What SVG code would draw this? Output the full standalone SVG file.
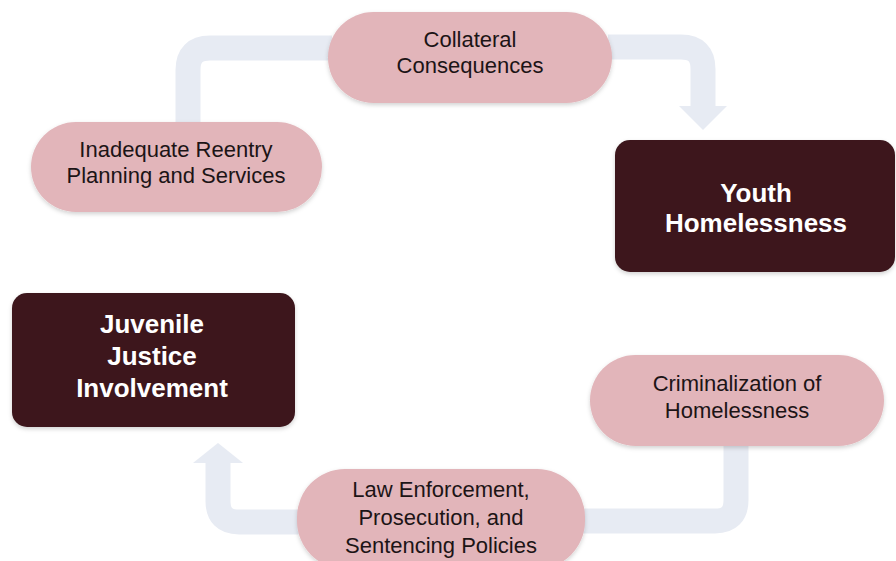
<svg xmlns="http://www.w3.org/2000/svg" width="896" height="561" viewBox="0 0 896 561">
<defs>
<style>
.flow{fill:none;stroke:#e7ebf3;stroke-width:25;stroke-linejoin:round}
.head{fill:#e7ebf3}
.pill{fill:#e2b5ba}
.dark{fill:#3c161c}
.pt{font-family:"Liberation Sans",Arial,sans-serif;font-size:22px;fill:#1c1416;text-anchor:middle}
.dt{font-family:"Liberation Sans",Arial,sans-serif;font-size:26px;font-weight:bold;fill:#ffffff;text-anchor:middle}
</style>
<filter id="sh" x="-10%" y="-10%" width="120%" height="130%">
<feDropShadow dx="0" dy="2" stdDeviation="2" flood-color="#000" flood-opacity="0.18"/>
</filter>
</defs>
<rect width="896" height="561" fill="#ffffff"/>
<g id="connectors">
<path class="flow" d="M188 124 V70 Q188 48 210 48 H332"/>
<path class="flow" d="M608 47 H681 Q703 47 703 69 V107"/>
<polygon class="head" points="679,106 727,106 703,130"/>
<path class="flow" d="M736 444 V500 Q736 521 715 521 H582"/>
<path class="flow" d="M300 522 H239 Q218 522 218 501 V462"/>
<polygon class="head" points="193,463 243,463 218,443"/>
</g>
<g id="collateral">
<rect class="pill" x="328" y="12" width="284" height="91" rx="45.5" filter="url(#sh)"/>
<text class="pt" x="470" y="47">Collateral</text>
<text class="pt" x="470" y="73">Consequences</text>
</g>
<g id="reentry">
<rect class="pill" x="31" y="122" width="291" height="90" rx="45" filter="url(#sh)"/>
<text class="pt" x="176" y="157">Inadequate Reentry</text>
<text class="pt" x="176" y="183">Planning and Services</text>
</g>
<g id="youth">
<rect class="dark" x="615" y="140" width="280" height="132" rx="15" filter="url(#sh)"/>
<text class="dt" x="756" y="202">Youth</text>
<text class="dt" x="756" y="232">Homelessness</text>
</g>
<g id="juvenile">
<rect class="dark" x="12" y="293" width="283" height="134" rx="15" filter="url(#sh)"/>
<text class="dt" x="152" y="333">Juvenile</text>
<text class="dt" x="152" y="365">Justice</text>
<text class="dt" x="152" y="397">Involvement</text>
</g>
<g id="criminalization">
<rect class="pill" x="590" y="355" width="294" height="91" rx="45.5" filter="url(#sh)"/>
<text class="pt" x="737" y="391">Criminalization of</text>
<text class="pt" x="737" y="418">Homelessness</text>
</g>
<g id="law">
<rect class="pill" x="297" y="469" width="288" height="100" rx="48" filter="url(#sh)"/>
<text class="pt" x="441" y="497">Law Enforcement,</text>
<text class="pt" x="441" y="525">Prosecution, and</text>
<text class="pt" x="441" y="553">Sentencing Policies</text>
</g>
</svg>
